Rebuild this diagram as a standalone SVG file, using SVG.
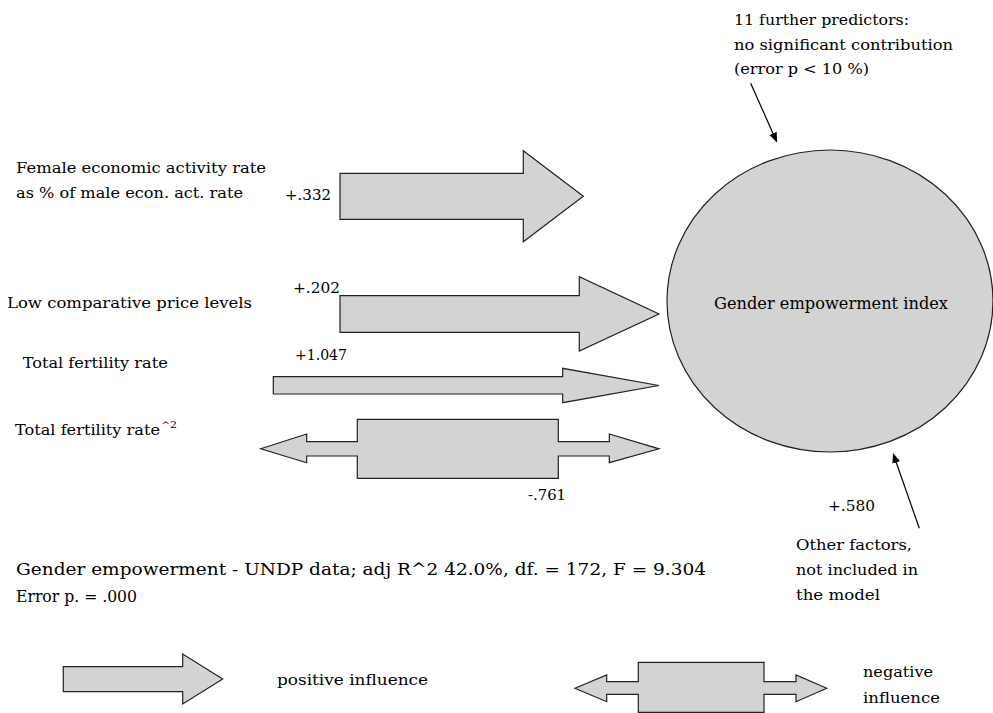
<svg xmlns="http://www.w3.org/2000/svg" width="993" height="713" viewBox="0 0 993 713">
<style>
text{font-family:'DejaVu Serif','Liberation Serif',serif;font-size:15px;fill:#000}
.big{font-size:17px}
.st{font-size:16px}
.sup{font-size:9px}
.sh{fill:#d3d3d3;stroke:#222;stroke-width:1.2;stroke-linejoin:miter}
.ln{stroke:#000;stroke-width:1.2;fill:none;marker-end:url(#ah)}
</style>
<defs>
<marker id="ah" markerWidth="10" markerHeight="10" refX="9" refY="5" orient="auto" markerUnits="userSpaceOnUse">
<path d="M0,1 L10,5 L0,9 Z" fill="#000"/>
</marker>
</defs>
<rect width="993" height="713" fill="#fff"/>

<g id="connectors">
<polygon class="sh" points="340,173.3 523.3,173.3 523.3,150.7 583.3,196.3 523.3,241.7 523.3,219.3 340,219.3"/>
<polygon class="sh" points="340,295.7 579.3,295.7 579.3,276.7 659,314 579.3,351 579.3,332.3 340,332.3"/>
<polygon class="sh" points="273.3,376.7 562.7,376.7 562.7,368.3 659,385.5 562.7,402.7 562.7,394 273.3,394"/>
<polygon class="sh" points="260.7,448.8 306.7,434 306.7,441.7 357.3,441.7 357.3,419.3 558.3,419.3 558.3,441.7 609.3,441.7 609.3,434 659,448.8 609.3,462.7 609.3,456 558.3,456 558.3,478.3 357.3,478.3 357.3,456 306.7,456 306.7,462.7"/>
<line class="ln" x1="750.7" y1="83.3" x2="776.7" y2="141.7"/>
<line class="ln" x1="919.3" y1="528.3" x2="893.3" y2="454"/>
</g>

<g id="gender-empowerment-index">
<ellipse class="sh" cx="830" cy="301" rx="163" ry="151"/>
<text class="big" x="714" y="309" textLength="234" lengthAdjust="spacingAndGlyphs">Gender empowerment index</text>
</g>

<g id="female-activity">
<text x="16" y="173" textLength="250" lengthAdjust="spacingAndGlyphs">Female economic activity rate</text>
<text x="16" y="198" textLength="227" lengthAdjust="spacingAndGlyphs">as % of male econ. act. rate</text>
<text x="285" y="200" textLength="46" lengthAdjust="spacingAndGlyphs">+.332</text>
</g>

<g id="price-levels">
<text x="7" y="307.5" textLength="245" lengthAdjust="spacingAndGlyphs">Low comparative price levels</text>
<text x="293" y="293" textLength="47" lengthAdjust="spacingAndGlyphs">+.202</text>
</g>

<g id="fertility">
<text x="22.7" y="367.5" textLength="145" lengthAdjust="spacingAndGlyphs">Total fertility rate</text>
<text x="295" y="360" textLength="52" lengthAdjust="spacingAndGlyphs">+1.047</text>
</g>

<g id="fertility-squared">
<text x="15" y="435" textLength="145" lengthAdjust="spacingAndGlyphs">Total fertility rate</text>
<text class="sup" x="161" y="428" textLength="16" lengthAdjust="spacingAndGlyphs">^2</text>
<text x="528" y="500" textLength="38" lengthAdjust="spacingAndGlyphs">-.761</text>
</g>

<g id="further-predictors">
<text x="734" y="25" textLength="175" lengthAdjust="spacingAndGlyphs">11 further predictors:</text>
<text x="734" y="49.5" textLength="219" lengthAdjust="spacingAndGlyphs">no significant contribution</text>
<text x="734" y="74" textLength="135" lengthAdjust="spacingAndGlyphs">(error p &lt; 10 %)</text>
</g>

<g id="other-factors">
<text x="828" y="510.5" textLength="47" lengthAdjust="spacingAndGlyphs">+.580</text>
<text x="796" y="550" textLength="116" lengthAdjust="spacingAndGlyphs">Other factors,</text>
<text x="796" y="575" textLength="122" lengthAdjust="spacingAndGlyphs">not included in</text>
<text x="796" y="600" textLength="84" lengthAdjust="spacingAndGlyphs">the model</text>
</g>

<g id="model-stats">
<text class="st" x="16" y="575" textLength="690" lengthAdjust="spacingAndGlyphs">Gender empowerment - UNDP data; adj R^2 42.0%, df. = 172, F = 9.304</text>
<text class="st" x="16" y="601.5" textLength="121" lengthAdjust="spacingAndGlyphs">Error p. = .000</text>
</g>

<g id="legend-positive">
<polygon class="sh" points="63.3,666.7 182.7,666.7 182.7,654 222.7,679 182.7,704 182.7,691.7 63.3,691.7"/>
<text x="277" y="685" textLength="151" lengthAdjust="spacingAndGlyphs">positive influence</text>
</g>

<g id="legend-negative">
<polygon class="sh" points="575,688.3 606.7,675 606.7,681.7 638.3,681.7 638.3,662.3 764,662.3 764,681.7 796,681.7 796,675 826.7,688.3 796,701.7 796,694.3 764,694.3 764,712.3 638.3,712.3 638.3,694.3 606.7,694.3 606.7,701.7"/>
<text x="863" y="677" textLength="70" lengthAdjust="spacingAndGlyphs">negative</text>
<text x="863" y="703" textLength="77" lengthAdjust="spacingAndGlyphs">influence</text>
</g>
</svg>
